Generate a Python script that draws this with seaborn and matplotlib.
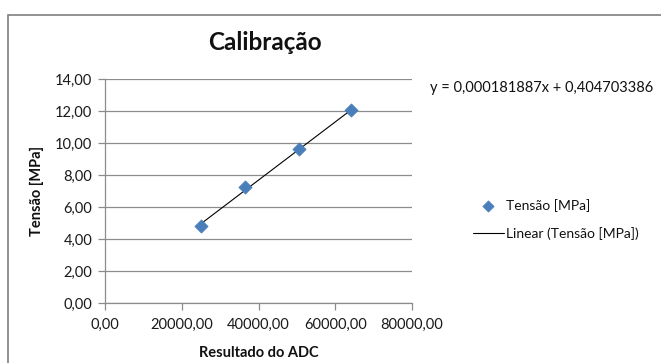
import numpy as np
import pandas as pd
import matplotlib
matplotlib.use("Agg")
import matplotlib.pyplot as plt
from matplotlib.ticker import FuncFormatter, MultipleLocator
from matplotlib.patches import Rectangle
import seaborn as sns

# Calibration readings
adc_values = [24935, 36440, 50470, 63975]
tension_mpa = [4.79, 7.22, 9.62, 12.04]

# Linear trendline coefficients
slope = 0.000181887
intercept = 0.404703386

title = "Calibração"
x_label = "Resultado do ADC"
y_label = "Tensão [MPa]"
series_label = "Tensão [MPa]"
trend_label = "Linear (Tensão [MPa])"

sns.set_theme(style="white")
plt.rcParams["font.family"] = ["Lato", "DejaVu Sans"]
plt.rcParams["text.color"] = "#111111"

df = pd.DataFrame({"adc": adc_values, "tensao": tension_mpa})
x_ends = np.array([min(adc_values), max(adc_values)])
trend = pd.DataFrame({"adc": x_ends, "tensao": slope * x_ends + intercept})

fig = plt.figure(figsize=(6.61, 3.63), dpi=100)
ax = fig.add_axes([105 / 661, 1 - 303 / 363, (412 - 105) / 661, (303 - 79) / 363])

sns.lineplot(data=trend, x="adc", y="tensao", ax=ax, color="black", lw=0.8,
             label=trend_label, zorder=2)
sns.scatterplot(data=df, x="adc", y="tensao", ax=ax, marker="D", s=45,
                color="#4a7ebb", edgecolor="#4a7ebb", label=series_label, zorder=3)

ax.set_xlim(0, 80000)
ax.set_ylim(0, 14)
ax.xaxis.set_major_locator(MultipleLocator(20000))
ax.yaxis.set_major_locator(MultipleLocator(2))
fmt = FuncFormatter(lambda v, p: f"{v:.2f}".replace(".", ","))
ax.xaxis.set_major_formatter(fmt)
ax.yaxis.set_major_formatter(fmt)

ax.grid(axis="y", color="#8c8c8c", lw=0.9)
ax.grid(axis="x", visible=False)
for side in ["top", "right"]:
    ax.spines[side].set_visible(False)
for side in ["left", "bottom"]:
    ax.spines[side].set_color("#8c8c8c")
    ax.spines[side].set_linewidth(0.9)
ax.tick_params(axis="both", which="major", length=5, width=0.9, color="#8c8c8c",
               labelsize=10.5, labelcolor="#1a1a1a", direction="out", pad=4,
               left=True, bottom=True)
ax.tick_params(axis="x", pad=6)

ax.set_xlabel(x_label, fontsize=10.5, fontweight="bold", labelpad=10, color="#111111")
ax.set_ylabel(y_label, fontsize=10.5, fontweight="bold", labelpad=8, color="#111111")

fig.text(265 / 661, 1 - 42 / 363, title, ha="center", va="center",
         fontsize=17.5, fontweight="bold")
fig.text(430 / 661, 1 - 88 / 363, f"y = {slope:.9f}x + {intercept:.9f}".replace(".", ","),
         ha="left", va="center", fontsize=10.5)

handles, labels = ax.get_legend_handles_labels()
order = [labels.index(series_label), labels.index(trend_label)]
ax.legend([handles[i] for i in order], [labels[i] for i in order],
          loc="upper left", bbox_to_anchor=(466 / 661, 1 - 192 / 363),
          bbox_transform=fig.transFigure, frameon=False, fontsize=10,
          handlelength=2.2, handletextpad=0.2, labelspacing=1.1, borderpad=0,
          markerscale=0.85)

fig.add_artist(Rectangle((8 / 661, -0.05), 1.0, 1.05 - 15 / 363, transform=fig.transFigure,
                         fill=False, edgecolor="#7f7f7f", lw=1.2))

fig.savefig("out.png", dpi=100)
